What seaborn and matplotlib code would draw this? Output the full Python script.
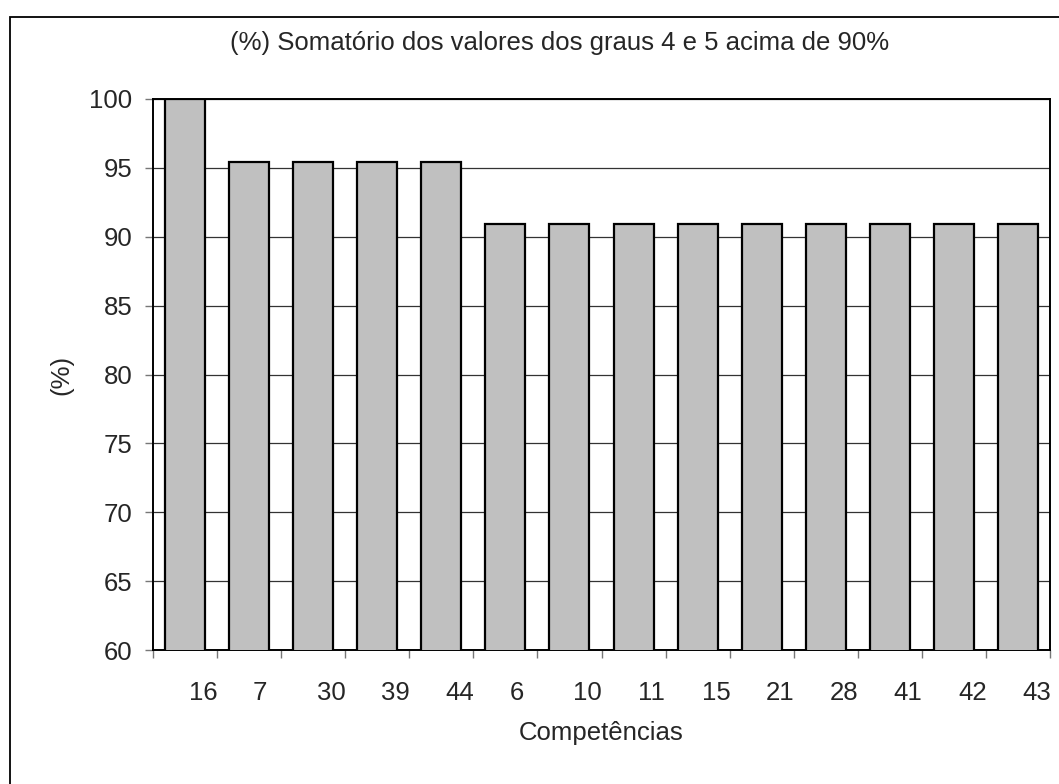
import matplotlib
matplotlib.use("Agg")
import matplotlib.pyplot as plt
import matplotlib.transforms as mtransforms
from matplotlib.patches import Rectangle
import pandas as pd
import seaborn as sns

# Competências ordered as in the chart and the % of grades 4 and 5
competencias = ['16', '7', '30', '39', '44', '6', '10', '11', '15', '21', '28', '41', '42', '43']
percentual = [100, 95.45, 95.45, 95.45, 95.45, 90.91, 90.91, 90.91, 90.91, 90.91,
              90.91, 90.91, 90.91, 90.91]
yticks = [60, 65, 70, 75, 80, 85, 90, 95, 100]

df = pd.DataFrame({'competencia': competencias, 'pct': percentual})

sns.set_style("white")
plt.rcParams['font.family'] = ['Liberation Sans', 'DejaVu Sans']
fs = 18.5

fig = plt.figure(figsize=(10.59, 7.84), dpi=100)
ax = fig.add_axes([153 / 1059, 1 - 650 / 784, (1050 - 153) / 1059, (650 - 99) / 784])

sns.barplot(data=df, x='competencia', y='pct', order=competencias, color='#C0C0C0',
            edgecolor='black', linewidth=1.6, width=0.625, saturation=1, ax=ax, zorder=3)
for p in ax.patches:
    p.set_facecolor('#C0C0C0')

ax.set_ylim(60, 100)
ax.set_xlim(-0.5, len(competencias) - 0.5)
ax.set_yticks(yticks)
ax.yaxis.grid(True, color='#333333', linewidth=0.9, zorder=0)
ax.set_axisbelow(True)

for s in ax.spines.values():
    s.set_color('black')
    s.set_linewidth(1.4)

# category ticks between bars, labels under the bars
ax.set_xticks([i - 0.5 for i in range(len(competencias) + 1)], minor=True)
ax.tick_params(axis='x', which='minor', direction='out', length=6, width=1, color='#777777', bottom=True)
ax.tick_params(axis='x', which='major', length=0, pad=22, labelsize=fs)
ax.tick_params(axis='y', direction='out', length=6, width=1, color='#777777', left=True, pad=9, labelsize=fs)

offset = mtransforms.ScaledTranslation(4 / 100, 0, fig.dpi_scale_trans)
for lbl in ax.get_xticklabels():
    lbl.set_horizontalalignment('left')
    lbl.set_transform(lbl.get_transform() + offset)

ax.set_xlabel('Competências', fontsize=fs, labelpad=12)
ax.set_ylabel('(%)', fontsize=fs, labelpad=11)

fig.text(560 / 1059, 1 - 43 / 784, '(%) Somatório dos valores dos graus 4 e 5 acima de 90%',
         ha='center', va='center', fontsize=fs)

fig.patches.append(Rectangle((10 / 1059, -0.05), 1.1, 1 - 17 / 784 + 0.05, transform=fig.transFigure,
                             fill=False, edgecolor='black', linewidth=1.3))

fig.savefig('out.png', dpi=100)
